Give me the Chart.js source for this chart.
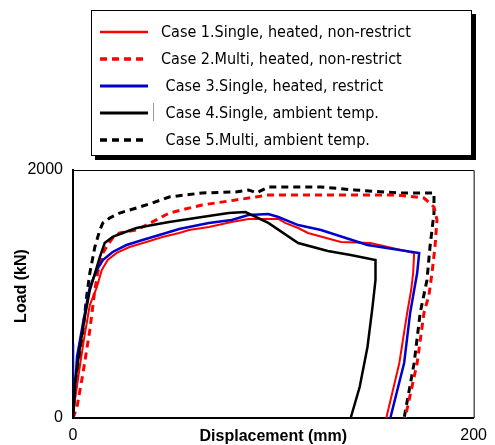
<!DOCTYPE html>
<html>
<head>
<meta charset="utf-8">
<script src="https://cdn.jsdelivr.net/npm/chart.js@4/dist/chart.umd.min.js"></script>
<style>
  html, body { margin: 0; padding: 0; background: #fff; }
  #wrap { width: 495px; height: 445px; }
</style>
</head>
<body>
<div id="wrap"><canvas id="grafico" width="495" height="445"></canvas></div>
<script>
// Displacement (mm) / Load (kN)
const case1Disp = [0, 1.0, 3.0, 5.4, 8.4, 11.9, 14.4, 17.3, 21.8, 28.2, 36.6, 44.6, 53.0, 57.9, 67.8, 79.2, 87.6, 102.5, 105.9, 112.4, 117.3, 133.7, 148.5, 170.3, 169.8, 168.8, 166.8, 162.9, 156.4];
const case1Load = [0, 145, 371, 629, 911, 1056, 1194, 1274, 1331, 1379, 1419, 1460, 1492, 1516, 1540, 1581, 1605, 1605, 1573, 1532, 1492, 1419, 1411, 1331, 1169, 1032, 847, 444, 0];

const case2Disp = [0, 2.0, 5.0, 8.4, 10.9, 12.4, 14.9, 17.3, 19.8, 23.3, 31.7, 39.6, 48.0, 64.4, 81.2, 91.1, 97.5, 112.4, 140.6, 161.9, 175.2, 180.2, 181.7, 180.7, 179.2, 177.7, 175.2, 171.8, 165.8];
const case2Load = [0, 89, 363, 710, 1032, 1177, 1331, 1395, 1452, 1492, 1516, 1581, 1653, 1718, 1758, 1782, 1798, 1798, 1798, 1798, 1774, 1702, 1597, 1379, 1169, 992, 847, 444, 0];

const case3Disp = [0, 0, 2.0, 5.0, 8.4, 11.9, 14.9, 19.8, 26.7, 34.7, 43.1, 53.0, 57.9, 67.8, 79.2, 87.6, 97.5, 102.5, 112.4, 123.8, 147.0, 172.8, 171.8, 170.3, 168.3, 165.3, 158.4];
const case3Load = [600, 0, 492, 766, 1056, 1194, 1274, 1339, 1395, 1435, 1476, 1524, 1540, 1573, 1597, 1637, 1645, 1621, 1556, 1516, 1395, 1331, 1169, 1032, 847, 444, 0];

const case4Disp = [0, 1.0, 3.5, 5.9, 8.4, 13.4, 15.8, 19.8, 24.8, 31.7, 39.6, 48.0, 64.4, 77.7, 86.1, 97.5, 112.4, 127.2, 138.6, 151.0, 151.0, 149.5, 147.0, 143.1, 138.6];
const case4Load = [0, 282, 573, 815, 1032, 1298, 1411, 1460, 1492, 1532, 1556, 1581, 1621, 1653, 1661, 1573, 1411, 1347, 1315, 1274, 1113, 895, 573, 250, 0];

const case5Disp = [0, 1.0, 3.0, 5.0, 6.9, 8.4, 10.9, 13.4, 14.9, 18.3, 23.3, 31.7, 39.6, 48.0, 64.4, 81.2, 87.6, 91.6, 97.5, 112.4, 123.8, 140.6, 161.9, 180.2, 180.2, 178.2, 176.7, 173.3, 170.3, 165.3];
const case5Load = [0, 226, 468, 710, 992, 1169, 1379, 1516, 1573, 1613, 1653, 1694, 1734, 1782, 1815, 1823, 1839, 1815, 1863, 1863, 1863, 1839, 1815, 1815, 1653, 1379, 1113, 847, 444, 0];

const nombres = [
    'Case 1.Single, heated, non-restrict',
    'Case 2.Multi, heated, non-restrict',
    ' Case 3.Single, heated, restrict',
    ' Case 4.Single, ambient temp.',
    ' Case 5.Multi, ambient temp.'
];
const xTicks = [0, 200];
const yTicks = [0, 2000];

function puntos(xs, ys) {
    return xs.map((x, i) => ({ x: x, y: ys[i] }));
}

const fuente = '"Liberation Sans Narrow", "DejaVu Sans Condensed", "Liberation Sans", sans-serif';

// legend box with shadow, drawn at the top
const cajaLeyenda = {
    id: 'cajaLeyenda',
    afterDraw(chart) {
        const c = chart.ctx;
        c.save();
        c.fillStyle = '#000';
        c.fillRect(95, 14, 381, 146);
        c.fillStyle = '#fff';
        c.fillRect(91, 10, 381, 146);
        c.strokeStyle = '#000';
        c.lineWidth = 1;
        c.strokeRect(91.5, 10.5, 380, 145);
        chart.data.datasets.forEach((ds, i) => {
            const y = 32 + i * 27;
            c.beginPath();
            c.setLineDash(ds.borderDash || []);
            c.strokeStyle = ds.borderColor;
            c.lineWidth = ds.borderWidth + 0.5;
            c.moveTo(100, y);
            c.lineTo(148, y);
            c.stroke();
            c.setLineDash([]);
            c.fillStyle = '#000';
            c.font = '16px ' + fuente;
            c.textBaseline = 'middle';
            c.fillText(ds.label, 161, y + 1, 260);
        });
        // small grey mark next to case 4
        c.fillStyle = '#999';
        c.fillRect(153, 103, 1, 18);
        c.restore();
    }
};

// top and right frame + y title
const marco = {
    id: 'marco',
    beforeDatasetsDraw(chart) {
        const a = chart.chartArea;
        const c = chart.ctx;
        c.save();
        c.strokeStyle = '#000';
        c.lineWidth = 1;
        c.beginPath();
        c.moveTo(a.left, a.top + 0.5);
        c.lineTo(a.right + 0.5, a.top + 0.5);
        c.lineTo(a.right + 0.5, a.bottom);
        c.stroke();
        c.translate(22, 286);
        c.rotate(-Math.PI / 2);
        c.fillStyle = '#000';
        c.font = 'bold 16px "Liberation Sans", sans-serif';
        c.textAlign = 'center';
        c.textBaseline = 'middle';
        c.fillText('Load (kN)', 0, 0);
        c.restore();
    }
};

const ctx = document.getElementById('grafico').getContext('2d');
new Chart(ctx, {
    type: 'scatter',
    data: {
        datasets: [{
            label: nombres[0],
            data: puntos(case1Disp, case1Load),
            borderColor: '#ff0000',
            borderWidth: 2,
            order: 3
        }, {
            label: nombres[1],
            data: puntos(case2Disp, case2Load),
            borderColor: '#ff0000',
            borderWidth: 3,
            borderDash: [7, 5],
            order: 4
        }, {
            label: nombres[2],
            data: puntos(case3Disp, case3Load),
            borderColor: '#0000cc',
            borderWidth: 2.5,
            order: 2
        }, {
            label: nombres[3],
            data: puntos(case4Disp, case4Load),
            borderColor: '#000000',
            borderWidth: 2.5,
            order: 1
        }, {
            label: nombres[4],
            data: puntos(case5Disp, case5Load),
            borderColor: '#000000',
            borderWidth: 3,
            borderDash: [7, 5],
            order: 5
        }]
    },
    options: {
        responsive: false,
        animation: false,
        showLine: true,
        elements: { point: { radius: 0, hoverRadius: 0 }, line: { tension: 0 } },
        layout: { padding: { left: 0, top: 170, right: 18, bottom: 0 } },
        plugins: {
            legend: { display: false },
            tooltip: { enabled: false }
        },
        scales: {
            x: {
                type: 'linear',
                min: xTicks[0],
                max: xTicks[1],
                afterFit: s => { s.height = 27; },
                afterBuildTicks: s => { s.ticks = xTicks.map(v => ({ value: v })); },
                grid: { display: false, drawTicks: false },
                border: { display: true, color: '#000', width: 2 },
                ticks: {
                    color: '#000', padding: 8, maxRotation: 0,
                    callback: v => String(v),
                    font: { family: '"Liberation Sans", sans-serif', size: 16 }
                },
                title: {
                    display: true,
                    text: 'Displacement (mm)',
                    color: '#000',
                    padding: 0,
                    font: { family: '"Liberation Sans", sans-serif', size: 16, weight: 'bold', lineHeight: 1 }
                }
            },
            y: {
                type: 'linear',
                min: yTicks[0],
                max: yTicks[1],
                afterFit: s => { s.width = 73; },
                afterBuildTicks: s => { s.ticks = yTicks.map(v => ({ value: v })); },
                grid: { display: false, drawTicks: false },
                border: { display: true, color: '#000', width: 2 },
                ticks: {
                    color: '#000', padding: 10,
                    callback: v => String(v),
                    font: { family: '"Liberation Sans", sans-serif', size: 16 }
                }
            }
        }
    },
    plugins: [marco, cajaLeyenda]
});
</script>
</body>
</html>
